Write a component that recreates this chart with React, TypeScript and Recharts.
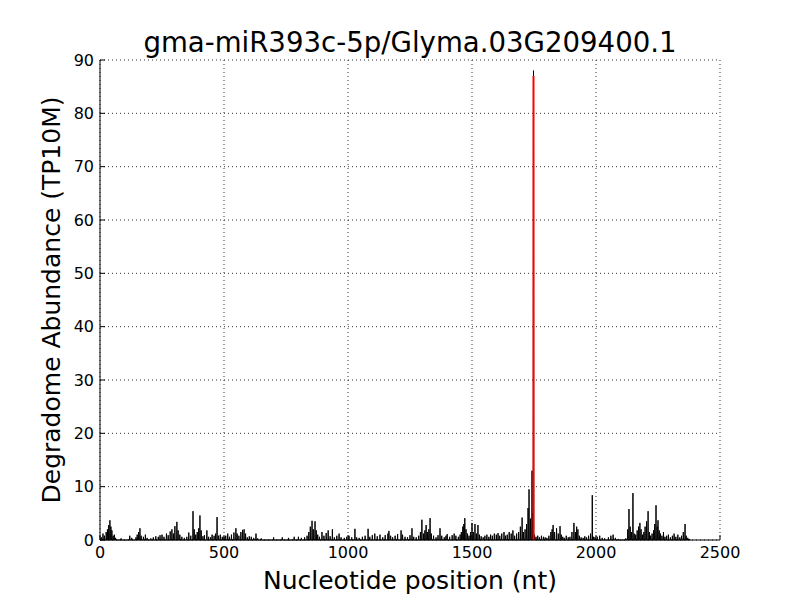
import { LineChart, Line, XAxis, YAxis, CartesianGrid, ReferenceLine } from 'recharts';

// nucleotide positions with non-zero degradome reads (everything else is 0)
const peakPos = [
    5, 12, 18, 25, 30, 35, 40, 44, 48, 53, 58, 63, 85, 120, 128, 145, 150, 156, 161, 166, 175, 183, 190,
    205, 215, 225, 235, 242, 250, 258, 268, 275, 283, 290, 296, 302, 310, 315, 322, 330, 340, 350, 358, 366,
    375, 380, 386, 392, 398, 403, 408, 415, 421, 431, 438, 446, 452, 460, 466, 472, 478, 485, 493, 500,
    507, 515, 522, 530, 540, 548, 553, 560, 568, 575, 581, 587, 594, 602, 610, 620, 629, 636, 650, 700,
    735, 760, 783, 800, 812, 825, 835, 842, 848, 855, 860, 867, 872, 878, 885, 895, 903, 912, 920, 928,
    937, 945, 955, 964, 972, 985, 995, 1004, 1015, 1028, 1035, 1045, 1058, 1069, 1081, 1088, 1098, 1108,
    1118, 1129, 1140, 1150, 1161, 1165, 1172, 1180, 1190, 1200, 1214, 1220, 1230, 1240, 1250, 1258, 1265,
    1275, 1285, 1292, 1298, 1305, 1310, 1315, 1320, 1326, 1331, 1336, 1345, 1355, 1363, 1371, 1378, 1388,
    1395, 1400, 1410, 1420, 1428, 1435, 1445, 1452, 1457, 1463, 1467, 1471, 1476, 1482, 1488, 1494, 1500,
    1505, 1512, 1518, 1524, 1530, 1537, 1545, 1552, 1560, 1568, 1575, 1582, 1590, 1598, 1605, 1612, 1620,
    1629, 1635, 1642, 1650, 1658, 1665, 1672, 1680, 1688, 1695, 1702, 1707, 1714, 1720, 1726, 1730, 1736,
    1742, 1745, 1748, 1752, 1758, 1765, 1772, 1780, 1788, 1795, 1802, 1810, 1818, 1823, 1827, 1833, 1841,
    1848, 1855, 1860, 1866, 1872, 1880, 1888, 1895, 1903, 1911, 1917, 1922, 1927, 1933, 1940, 1948, 1955,
    1962, 1970, 1978, 1985, 1990, 1996, 2005, 2015, 2025, 2035, 2050, 2060, 2069, 2078, 2090, 2120, 2128,
    2133, 2138, 2143, 2149, 2154, 2160, 2166, 2172, 2177, 2182, 2188, 2193, 2198, 2204, 2210, 2215, 2220,
    2226, 2232, 2237, 2242, 2247, 2250, 2255, 2260, 2266, 2272, 2278, 2285, 2292, 2300, 2308, 2315, 2322,
    2330, 2338, 2345, 2352, 2359, 2364, 2370, 2376,
];

const peakVal = [
    0.5, 1.2, 0.8, 1.5, 2.0, 2.8, 3.7, 2.5, 1.8, 0.8, 1.0, 0.4, 0.3, 0.8, 0.4, 0.5, 1.0, 1.5, 2.2, 0.8, 0.6, 1.0, 0.4,
    0.3, 0.5, 0.7, 0.6, 0.9, 1.0, 0.6, 1.2, 0.9, 1.6, 2.0, 1.2, 2.6, 3.4, 1.8, 1.0, 0.6, 0.4, 0.6, 1.4, 0.8,
    5.4, 2.0, 1.0, 1.5, 2.2, 4.6, 1.8, 0.7, 0.9, 1.8, 0.6, 0.5, 1.0, 0.8, 1.2, 4.3, 0.8, 1.0, 0.6, 0.5,
    0.8, 1.2, 0.6, 1.0, 1.4, 2.2, 1.2, 0.8, 1.5, 1.9, 2.0, 1.2, 0.5, 0.7, 0.6, 0.4, 1.2, 0.3, 0.3, 0.5,
    0.5, 0.4, 0.6, 0.6, 0.4, 0.5, 0.8, 1.5, 2.5, 3.6, 2.0, 3.5, 1.8, 1.0, 0.6, 1.5, 0.8, 1.3, 1.8, 0.7,
    2.0, 0.5, 0.8, 1.2, 0.5, 0.4, 0.6, 0.8, 0.5, 2.1, 0.5, 0.4, 0.6, 0.8, 2.1, 0.6, 0.9, 1.2,
    0.7, 1.0, 0.5, 0.9, 1.2, 1.7, 0.8, 0.5, 0.8, 1.1, 1.8, 1.0, 0.6, 0.5, 0.9, 2.2, 0.6,
    0.5, 0.8, 1.5, 3.8, 1.2, 1.8, 2.8, 1.5, 2.0, 4.1, 1.2, 0.8, 0.5, 0.9, 2.2, 0.8, 0.5,
    0.8, 1.1, 0.6, 0.9, 1.2, 0.8, 0.6, 1.0, 1.5, 2.5, 3.0, 4.1, 2.0, 1.2, 0.8, 1.5, 3.2,
    1.5, 3.0, 1.2, 2.8, 1.0, 0.7, 0.5, 0.8, 1.0, 0.6, 1.0, 0.8, 1.2, 1.0, 1.3, 0.8, 1.2,
    1.5, 0.8, 1.0, 1.5, 1.2, 1.8, 0.8, 1.2, 1.5, 2.5, 4.2, 1.5, 2.0, 3.0, 6.0, 9.5, 4.0,
    13.0, 5.0, 88.0, 1.0, 0.6, 0.8, 0.5, 0.8, 0.6, 0.5, 0.4, 0.8, 1.5, 2.0, 2.8, 1.5, 2.2,
    1.2, 2.6, 1.0, 0.6, 0.4, 0.8, 0.5, 0.6, 1.5, 3.2, 1.5, 2.5, 2.0, 0.8, 0.5, 0.4, 0.7,
    0.5, 0.8, 1.2, 8.4, 0.6, 0.5, 0.6, 0.8, 0.4, 0.3, 0.5, 0.8, 1.0, 0.4, 0.2, 0.3, 2.0,
    5.8, 2.5, 1.5, 8.8, 1.2, 1.0, 1.8, 2.5, 3.2, 2.0, 1.0, 1.5, 2.5, 3.5, 5.4, 1.5, 0.8,
    1.2, 1.8, 3.0, 6.5, 2.5, 3.7, 1.8, 1.2, 0.8, 1.5, 0.6, 0.8, 1.0, 0.5, 0.8, 1.2, 0.6,
    1.0, 0.5, 0.8, 1.5, 3.0, 0.8, 0.4, 0.2,
];

const transcriptLength = 2380;
const cleavageSite = 1748;
const cleavageHeight = 87;

const xTicks = [0, 500, 1000, 1500, 2000, 2500];
const yTicks = [0, 10, 20, 30, 40, 50, 60, 70, 80, 90];

const lookup = new Map<number, number>();
peakPos.forEach((p, i) => lookup.set(p, peakVal[i]));

const data: { pos: number; abundance: number }[] = [];
for (let p = 0; p <= transcriptLength; p++) {
    data.push({ pos: p, abundance: lookup.get(p) ?? 0 });
}

const FONT = '"DejaVu Sans", sans-serif';

// matplotlib classic: ticks point inward, labels sit outside
const BottomTick = (props: any) => {
    const { x, y, payload } = props;
    return (
        <g>
            <line x1={x} y1={y} x2={x} y2={y - 5} stroke="#000" />
            <text x={x} y={y + 6} dy="0.75em" textAnchor="middle" fontSize={16} fontFamily={FONT} fill="#000">
                {payload.value}
            </text>
        </g>
    );
};

const LeftTick = (props: any) => {
    const { x, y, payload } = props;
    return (
        <g>
            <line x1={x} y1={y} x2={x + 5} y2={y} stroke="#000" />
            <text x={x - 6} y={y} dy="0.36em" textAnchor="end" fontSize={16} fontFamily={FONT} fill="#000">
                {payload.value}
            </text>
        </g>
    );
};

const TopTick = (props: any) => {
    const { x, y } = props;
    return <line x1={x} y1={y} x2={x} y2={y + 5} stroke="#000" />;
};

const RightTick = (props: any) => {
    const { x, y } = props;
    return <line x1={x} y1={y} x2={x - 5} y2={y} stroke="#000" />;
};

export default function App() {
    return (
        <div style={{ position: 'absolute', left: 0, top: 0, width: 800, height: 600, background: '#fff', fontFamily: FONT }}>
            <div style={{ position: 'absolute', left: 100, width: 620, top: 26, textAlign: 'center', fontSize: 27.6, lineHeight: '34px', color: '#000', whiteSpace: 'nowrap' }}>
                gma-miR393c-5p/Glyma.03G209400.1
            </div>
            <div style={{ position: 'absolute', left: 100, width: 620, top: 566, textAlign: 'center', fontSize: 25, lineHeight: '30px', color: '#000', whiteSpace: 'nowrap' }}>
                Nucleotide position (nt)
            </div>
            <div
                style={{
                    position: 'absolute',
                    left: 52 - 300,
                    top: 300 - 15,
                    width: 600,
                    textAlign: 'center',
                    fontSize: 25,
                    lineHeight: '30px',
                    color: '#000',
                    whiteSpace: 'nowrap',
                    transform: 'rotate(-90deg)',
                }}
            >
                Degradome Abundance (TP10M)
            </div>
            <LineChart width={800} height={600} data={data} margin={{ top: 60, right: 80, bottom: 0, left: 0 }}>
                <CartesianGrid stroke="#000" strokeDasharray="1 3" strokeWidth={0.8} horizontal vertical />
                <XAxis
                    dataKey="pos"
                    type="number"
                    domain={[0, 2500]}
                    ticks={xTicks}
                    height={60}
                    tickSize={0}
                    tickMargin={0}
                    tickLine={false}
                    axisLine={{ stroke: '#000' }}
                    tick={<BottomTick />}
                    interval={0}
                />
                <XAxis
                    xAxisId="top"
                    orientation="top"
                    type="number"
                    domain={[0, 2500]}
                    ticks={xTicks}
                    mirror
                    height={0}
                    tickSize={0}
                    tickMargin={0}
                    tickLine={false}
                    axisLine={{ stroke: '#000' }}
                    tick={<TopTick />}
                    interval={0}
                />
                <YAxis
                    type="number"
                    domain={[0, 90]}
                    ticks={yTicks}
                    width={100}
                    tickSize={0}
                    tickMargin={0}
                    tickLine={false}
                    axisLine={{ stroke: '#000' }}
                    tick={<LeftTick />}
                    interval={0}
                />
                <YAxis
                    yAxisId="right"
                    orientation="right"
                    type="number"
                    domain={[0, 90]}
                    ticks={yTicks}
                    mirror
                    width={0}
                    tickSize={0}
                    tickMargin={0}
                    tickLine={false}
                    axisLine={{ stroke: '#000' }}
                    tick={<RightTick />}
                    interval={0}
                />
                <Line
                    type="linear"
                    dataKey="abundance"
                    stroke="#000"
                    strokeWidth={1}
                    dot={false}
                    activeDot={false}
                    isAnimationActive={false}
                />
                <ReferenceLine
                    segment={[
                        { x: cleavageSite, y: 0 },
                        { x: cleavageSite, y: cleavageHeight },
                    ]}
                    stroke="#ff0000"
                    strokeWidth={2}
                />
            </LineChart>
        </div>
    );
}
